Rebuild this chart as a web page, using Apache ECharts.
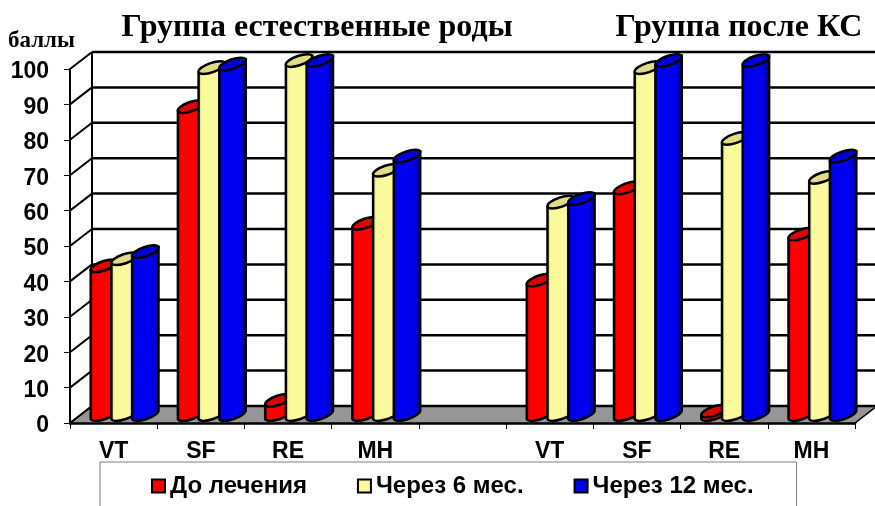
<!DOCTYPE html>
<html>
<head>
<meta charset="utf-8">
<title>chart</title>
<script src="https://cdn.jsdelivr.net/npm/echarts@6/dist/echarts.min.js"></script>
<style>
    html, body { margin: 0; padding: 0; background: #fff; }
    #chart { width: 875px; height: 506px; }
</style>
</head>
<body>
<div id="chart"></div>
<script>
    const categories = ['VT', 'SF', 'RE', 'MH', '', 'VT', 'SF', 'RE', 'MH']
    const yTicks = [0, 10, 20, 30, 40, 50, 60, 70, 80, 90, 100]
    const beforeTreatment = [42, 87, 4, 54, null, 38, 64, 1, 51]
    const after6Months = [44, 98, 100, 69, null, 60, 98, 78, 67]
    const after12Months = [46, 99, 100, 73, null, 61, 100, 100, 73]

    // глубина псевдо-3D
    const DX = 22
    const DY = -17
    const BAR_STEP = 20.7
    const LINE = '#000'

    function pt (x, y) {
        return x.toFixed(1) + ' ' + y.toFixed(1)
    }

    // половина эллипса снизу (слева направо)
    function lowerArc (cx, cy, ax, ay, bx, by) {
        const k = 0.5523
        return 'C' + pt(cx - ax + k * bx, cy - ay + k * by) + ' ' + pt(cx + bx - k * ax, cy + by - k * ay) + ' ' + pt(cx + bx, cy + by) +
            'C' + pt(cx + bx + k * ax, cy + by + k * ay) + ' ' + pt(cx + ax + k * bx, cy + ay + k * by) + ' ' + pt(cx + ax, cy + ay)
    }

    function upperArc (cx, cy, ax, ay, bx, by) {
        const k = 0.5523
        return 'C' + pt(cx + ax - k * bx, cy + ay - k * by) + ' ' + pt(cx - bx + k * ax, cy - by + k * ay) + ' ' + pt(cx - bx, cy - by) +
            'C' + pt(cx - bx - k * ax, cy - by - k * ay) + ' ' + pt(cx - ax - k * bx, cy - ay - k * by) + ' ' + pt(cx - ax, cy - ay)
    }

    function cylinder (offset, colors) {
        return function (params, api) {
            const top = api.coord([api.value(0), api.value(1)])
            const bottom = api.coord([api.value(0), 0])
            const cx = top[0] + DX / 2 + offset * BAR_STEP
            const topY = top[1] + DY / 2
            const botY = bottom[1] + DY / 2
            const ax = 13.2
            const ay = -4.5
            const bx = 1.3
            const by = 4.5
            const body = 'M' + pt(cx - ax, topY - ay) + 'L' + pt(cx - ax, botY - ay) +
                lowerArc(cx, botY, ax, ay, bx, by) + 'L' + pt(cx + ax, topY + ay) + 'Z'
            const cap = 'M' + pt(cx - ax, topY - ay) + lowerArc(cx, topY, ax, ay, bx, by) +
                upperArc(cx, topY, ax, ay, bx, by) + 'Z'
            return {
                type: 'group',
                children: [{
                    type: 'path',
                    shape: {pathData: body},
                    style: {
                        fill: new echarts.graphic.LinearGradient(0, 0, 1, 0, [
                            {offset: 0, color: colors.edge},
                            {offset: 0.15, color: colors.main},
                            {offset: 0.72, color: colors.main},
                            {offset: 1, color: colors.edge}
                        ]),
                        stroke: LINE,
                        lineWidth: 2.5
                    }
                }, {
                    type: 'path',
                    shape: {pathData: cap},
                    style: {fill: colors.cap, stroke: LINE, lineWidth: 2.5}
                }]
            }
        }
    }

    // стены и пол
    function renderWall (params, api) {
        const sys = params.coordSys
        const y = api.coord([0, api.value(0)])[1]
        const x0 = sys.x
        const x1 = sys.x + sys.width
        const children = [{
            type: 'line',
            shape: {x1: x0, y1: y, x2: x0 + DX, y2: y + DY},
            style: {stroke: LINE, lineWidth: 2}
        }, {
            type: 'line',
            shape: {x1: x0 + DX, y1: y + DY, x2: x1 + DX, y2: y + DY},
            style: {stroke: LINE, lineWidth: 2.5}
        }]
        if (api.value(0) === 0) {
            children.unshift({
                type: 'polygon',
                shape: {points: [[x0, y], [x0 + DX, y + DY], [x1 + DX, y + DY], [x1, y]]},
                style: {fill: '#969696', stroke: LINE, lineWidth: 1.5}
            }, {
                type: 'line',
                shape: {x1: x0 + DX, y1: y + DY, x2: x0 + DX, y2: sys.y + DY},
                style: {stroke: LINE, lineWidth: 2}
            })
        }
        return {type: 'group', children: children}
    }

    function toPoints (values) {
        const res = []
        values.forEach((v, i) => {
            if (v !== null) res.push([i, v])
        })
        return res
    }

    const red = {main: '#ff0000', edge: '#a00000', cap: '#e00000'}
    const yellow = {main: '#fafa9c', edge: '#b8b870', cap: '#e0dc86'}
    const blue = {main: '#0000f0', edge: '#000080', cap: '#0000d8'}

    const titleFont = 'Liberation Serif'
    const sansFont = 'Liberation Sans'

    const chart = echarts.init(document.getElementById('chart'))
    chart.setOption({
        animation: false,
        title: [
            {text: 'Группа естественные роды', left: 312, top: 7, textAlign: 'center',
                textStyle: {fontFamily: titleFont, fontWeight: 'bold', fontSize: 32, color: '#000'}},
            {text: 'Группа после КС', left: 734, top: 7, textAlign: 'center',
                textStyle: {fontFamily: titleFont, fontWeight: 'bold', fontSize: 32, color: '#000'}},
            {text: 'баллы', left: 3, top: 25,
                textStyle: {fontFamily: titleFont, fontWeight: 'bold', fontSize: 23, color: '#000'}}
        ],
        grid: {left: 70, right: 20, top: 69, bottom: 83},
        xAxis: {
            type: 'category',
            data: categories,
            axisLine: {lineStyle: {color: LINE, width: 2.5}},
            axisTick: {show: true, length: 6, interval: 0, lineStyle: {color: LINE, width: 1}},
            axisLabel: {interval: 0, margin: 17, color: '#000', fontFamily: sansFont, fontWeight: 'bold', fontSize: 23}
        },
        yAxis: {
            type: 'value',
            min: 0,
            max: 100,
            interval: 10,
            splitLine: {show: false},
            axisLine: {show: true, lineStyle: {color: LINE, width: 2}},
            axisTick: {show: true, length: 6, lineStyle: {color: LINE, width: 1}},
            axisLabel: {margin: 21, verticalAlign: 'top', lineHeight: 6, color: '#000', fontFamily: sansFont, fontWeight: 'bold', fontSize: 23}
        },
        legend: {
            left: 100,
            top: 462,
            padding: [12, 43, 30, 51],
            itemGap: 50,
            itemWidth: 13,
            itemHeight: 13,
            borderColor: '#808080',
            borderWidth: 1,
            textStyle: {fontFamily: sansFont, fontWeight: 'bold', fontSize: 24, color: '#000'},
            data: [
                {name: 'До лечения', icon: 'rect', itemStyle: {color: red.main, borderColor: LINE, borderWidth: 2}},
                {name: 'Через 6 мес.', icon: 'rect', itemStyle: {color: yellow.main, borderColor: LINE, borderWidth: 2}},
                {name: 'Через 12 мес.', icon: 'rect', itemStyle: {color: blue.main, borderColor: LINE, borderWidth: 2}}
            ]
        },
        series: [
            {type: 'custom', silent: true, clip: false, z: 1, renderItem: renderWall, data: yTicks.map(v => [v]), encode: {y: 0}},
            {name: 'До лечения', type: 'custom', clip: false, z: 2, itemStyle: {color: red.main}, renderItem: cylinder(-1, red), data: toPoints(beforeTreatment)},
            {name: 'Через 6 мес.', type: 'custom', clip: false, z: 3, itemStyle: {color: yellow.main}, renderItem: cylinder(0, yellow), data: toPoints(after6Months)},
            {name: 'Через 12 мес.', type: 'custom', clip: false, z: 4, itemStyle: {color: blue.main}, renderItem: cylinder(1, blue), data: toPoints(after12Months)}
        ]
    })
</script>
</body>
</html>
